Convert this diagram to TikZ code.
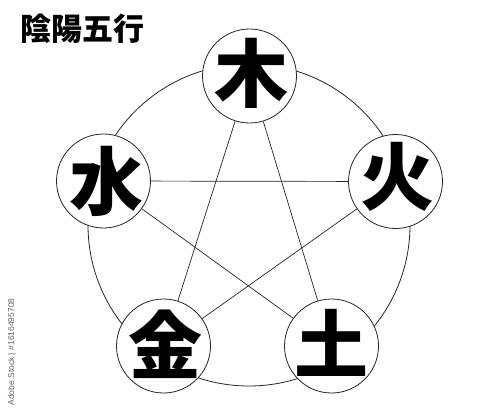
\documentclass[tikz,border=0pt]{standalone}
\usepackage{fontspec}
\newfontfamily\cjk{Noto Sans CJK JP}
\newfontfamily\wmfont{Liberation Sans}
\begin{document}
\begin{tikzpicture}[x=1pt,y=-1pt,
  elem/.style={circle, draw=black!85, line width=0.8pt, fill=white, minimum size=94pt, inner sep=0pt},
  kanji/.style={font=\cjk\bfseries\fontsize{74}{74}\selectfont, inner sep=0pt},
  starline/.style={draw=black!85, line width=0.7pt}]
\useasboundingbox (0,0) rectangle (500,417);
\fill[white] (0,0) rectangle (500,417);
% outer ring
\node (ring) [circle, draw=black!85, line width=0.8pt, minimum size=322pt, inner sep=0pt] at (249,225) {};
% element circles
\node (mu) [elem] at (249.5,76) {};
\node (huo) [elem] at (395.5,181.5) {};
\node (tu) [elem] at (331.5,346) {};
\node (jin) [elem] at (163.5,346) {};
\node (shui) [elem] at (103.5,181) {};
% star
\draw[starline] (mu) -- (tu);
\draw[starline] (tu) -- (shui);
\draw[starline] (shui) -- (huo);
\draw[starline] (huo) -- (jin);
\draw[starline] (jin) -- (mu);
% kanji
\node (tmu) [kanji] at (251,73) {木};
\node (thuo) [kanji] at (397,177) {火};
\node (ttu) [kanji] at (331,343) {土};
\node (tjin) [kanji] at (165,344) {金};
\node (tshui) [kanji] at (106,181) {水};
% title
\node (title) [anchor=west, inner sep=0pt, font=\cjk\bfseries\fontsize{31}{31}\selectfont] at (20,29) {陰陽五行};
% watermark id
\node (wm) [rotate=90, inner sep=0pt, text=black!60, font=\wmfont\fontsize{8.5}{8.5}\selectfont] at (12,352) {Adobe Stock | \#1616495708};
\end{tikzpicture}
\end{document}
